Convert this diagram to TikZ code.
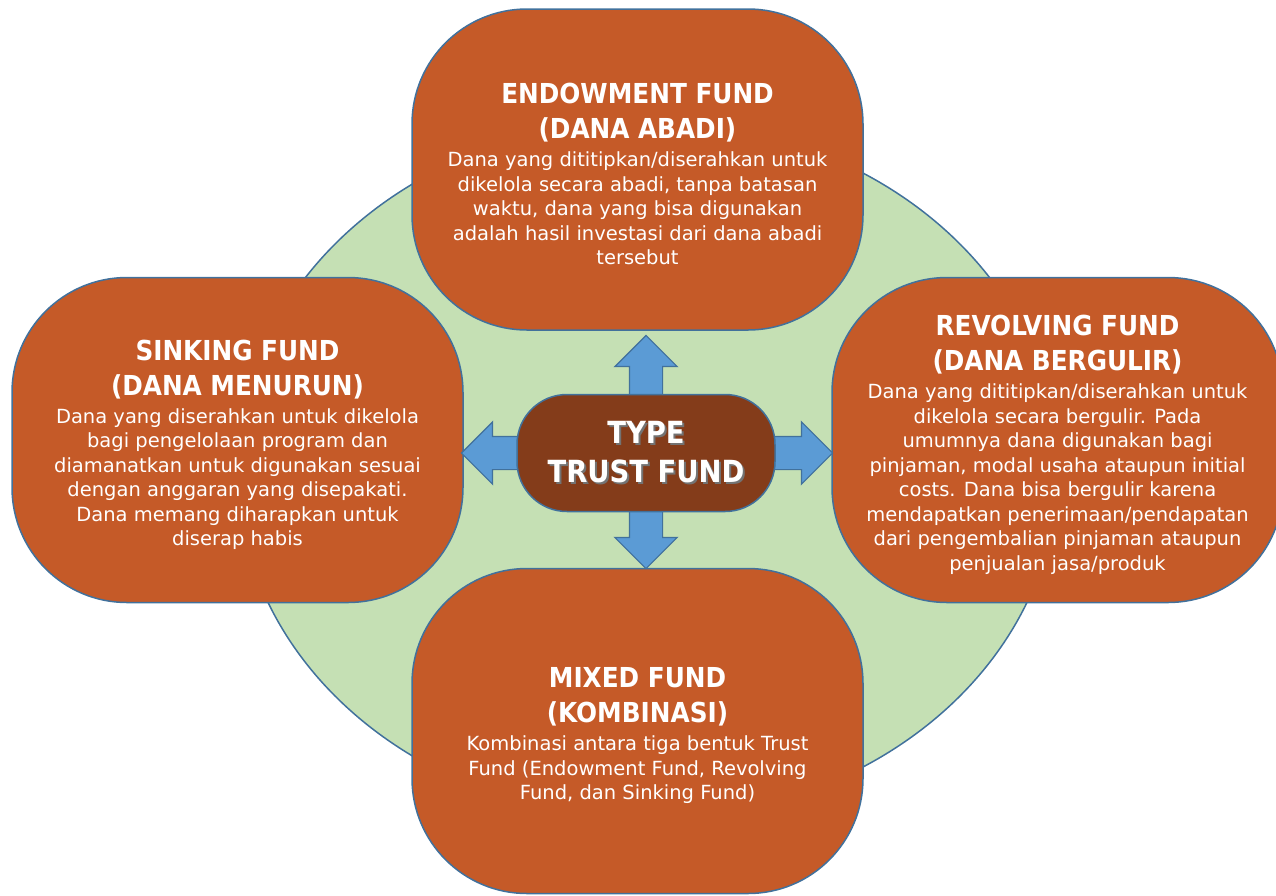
\documentclass[tikz,border=0pt]{standalone}
\usepackage{fontspec}
\setmainfont{DejaVu Sans}
\newfontfamily\narrowfont{DejaVu Sans Condensed}
\usetikzlibrary{shapes.arrows}

\definecolor{fundorange}{RGB}{197,90,40}
\definecolor{hubbrown}{RGB}{132,60,26}
\definecolor{ringgreen}{RGB}{197,224,180}
\definecolor{edgeblue}{RGB}{65,113,156}
\definecolor{arrowblue}{RGB}{91,155,213}

\newcommand{\headfont}{\narrowfont\fontsize{27.5}{35}\selectfont\bfseries}
\newcommand{\headstrut}{\rule{0pt}{30pt}}
\newcommand{\bodyfont}{\fontsize{19.5}{24.5}\selectfont}
\newcommand{\hubfont}{\narrowfont\fontsize{30.5}{39}\selectfont\bfseries}
% white lettering with a soft dark copy underneath
\newcommand{\castshadow}[1]{\leavevmode\rlap{\kern2pt\raisebox{-2pt}{\textcolor{black!55}{#1}}}#1}

\tikzset{
  ring/.style={draw=edgeblue, line width=1.5pt, fill=ringgreen},
  fundbox/.style={draw=edgeblue, line width=1.5pt, fill=fundorange, text=white,
    rounded corners=115pt, minimum width=451pt, minimum height=325pt,
    inner sep=0pt, align=center, font=\bodyfont},
  hubbox/.style={draw=edgeblue, line width=1.5pt, fill=hubbrown, text=white,
    rounded corners=50pt, minimum width=258pt, minimum height=117pt,
    inner sep=0pt, align=center, font=\hubfont},
  blockarrow/.style={single arrow, draw=edgeblue, fill=arrowblue, line width=1.2pt,
    inner xsep=0pt, inner ysep=16pt, single arrow head extend=14.5pt}
}

\begin{document}
\begin{tikzpicture}[x=1pt, y=-1pt]

\useasboundingbox (0,0) rectangle (1276,895);

% background ring
\draw[ring] (647.5,470) ellipse [x radius=410, y radius=349];

% the four kinds of fund
\node[fundbox, minimum height=321pt] (endow) at (637.5,169.5) {%
  \headfont\headstrut ENDOWMENT FUND\\[10.5pt] \headfont (DANA ABADI)\\[3.5pt]
  Dana yang dititipkan/diserahkan untuk\\
  dikelola secara abadi, tanpa batasan\\
  waktu, dana yang bisa digunakan\\
  adalah hasil investasi dari dana abadi\\
  tersebut};

\node[fundbox] (sink) at (237.5,440) {%
  \headfont\headstrut SINKING FUND\\[10.5pt] \headfont (DANA MENURUN)\\[3.5pt]
  Dana yang diserahkan untuk dikelola\\
  bagi pengelolaan program dan\\
  diamanatkan untuk digunakan sesuai\\
  dengan anggaran yang disepakati.\\
  Dana memang diharapkan untuk\\
  diserap habis};

\node[fundbox] (revolve) at (1057.5,440) {%
  \headfont\headstrut REVOLVING FUND\\[10.5pt] \headfont (DANA BERGULIR)\\[3.5pt]
  Dana yang dititipkan/diserahkan untuk\\
  dikelola secara bergulir. Pada\\
  umumnya dana digunakan bagi\\
  pinjaman, modal usaha ataupun initial\\
  costs. Dana bisa bergulir karena\\
  mendapatkan penerimaan/pendapatan\\
  dari pengembalian pinjaman ataupun\\
  penjualan jasa/produk};

\node[fundbox] (mixed) at (637.5,731) {%
  \headfont\headstrut MIXED FUND\\[10.5pt] \headfont (KOMBINASI)\\[3.5pt]
  Kombinasi antara tiga bentuk Trust\\
  Fund (Endowment Fund, Revolving\\
  Fund, dan Sinking Fund)};

% block arrows out of the hub
\coordinate (hub) at (646,453);
\foreach \dir/\len [count=\i] in {90/117, 0/186, 180/184, 270/115}
  \node[blockarrow, rotate=\dir, minimum height=\len pt, anchor=tail] (arrow\i) at (hub) {};

\node[hubbox] (core) at (hub) {\castshadow{TYPE}\\ \castshadow{TRUST FUND}};

\end{tikzpicture}
\end{document}
